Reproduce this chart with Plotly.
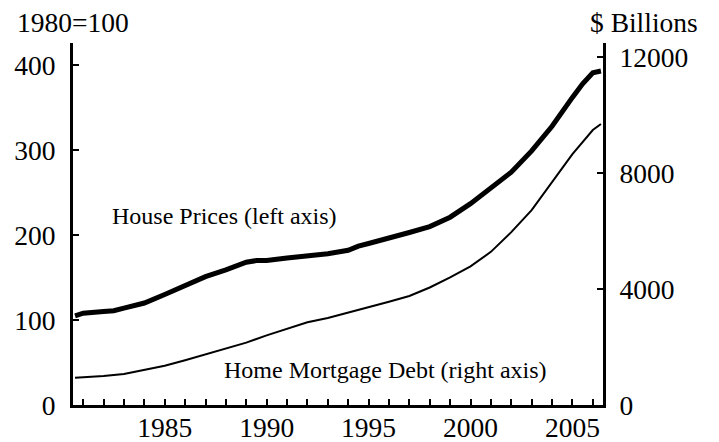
import plotly.graph_objects as go

# House price index, 1980=100 (left axis)
hp_year = [1980.6, 1981.0, 1982.0, 1982.5, 1983.0, 1984.0, 1985.0, 1986.0, 1987.0,
           1988.0, 1988.7, 1989.0, 1989.5, 1990.0, 1991.0, 1992.0, 1993.0, 1994.0,
           1994.5, 1995.0, 1996.0, 1997.0, 1998.0, 1999.0, 2000.0, 2001.0, 2002.0,
           2003.0, 2004.0, 2005.0, 2005.5, 2006.0, 2006.4]
hp_value = [105, 108, 110, 111, 114, 120, 130, 141, 151,
            159, 166, 168, 170, 170, 173, 175, 178, 182,
            187, 190, 196, 203, 210, 221, 237, 255, 274,
            299, 328, 362, 378, 391, 393]

# Home mortgage debt, $ billions (right axis)
debt_year = [1980.6, 1982.0, 1983.0, 1984.0, 1985.0, 1986.0, 1987.0, 1988.0,
             1989.0, 1990.0, 1991.0, 1992.0, 1993.0, 1994.0, 1995.0, 1996.0,
             1997.0, 1998.0, 1999.0, 2000.0, 2001.0, 2002.0, 2003.0, 2004.0,
             2005.0, 2006.0, 2006.4]
debt_value = [940, 1000, 1070, 1200, 1350, 1540, 1750, 1950,
              2150, 2400, 2630, 2850, 3000, 3180, 3380, 3560,
              3760, 4050, 4400, 4780, 5280, 5960, 6720, 7680,
              8650, 9480, 9690]

year_ticks = list(range(1981, 2007))
year_labels = [str(y) if y % 5 == 0 else "" for y in year_ticks]
left_ticks = [0, 100, 200, 300, 400]
right_ticks = [0, 4000, 8000, 12000]

FONT = "Liberation Serif"

fig = go.Figure()
fig.add_trace(go.Scatter(x=hp_year, y=hp_value, mode="lines",
                         line=dict(color="black", width=5), yaxis="y"))
fig.add_trace(go.Scatter(x=debt_year, y=debt_value, mode="lines",
                         line=dict(color="black", width=2), yaxis="y2"))

axis_common = dict(showgrid=False, zeroline=False, showline=True, linecolor="black",
                   linewidth=3, ticks="inside", ticklen=6, tickwidth=1.5, automargin=False,
                   tickcolor="black", tickfont=dict(size=27.5, color="black", family=FONT))

fig.update_layout(
    width=719, height=442,
    margin=dict(l=65, r=124, t=35, b=45),
    plot_bgcolor="white", paper_bgcolor="white",
    showlegend=False,
    font=dict(family=FONT, color="black", size=26),
    xaxis=dict(range=[1980.5, 2006.5], tickvals=year_ticks, ticktext=year_labels,
               ticklabelstandoff=-4, **axis_common),
    yaxis=dict(range=[0, 426], tickvals=left_ticks, ticklabelstandoff=9, **axis_common),
    yaxis2=dict(range=[0, 12480], tickvals=right_ticks, ticktext=[str(v) for v in right_ticks],
                overlaying="y", side="right", ticklabelstandoff=8, **axis_common),
    annotations=[
        dict(text="1980=100", xref="paper", yref="paper", x=-0.109, y=1.058,
             xanchor="left", yanchor="middle", showarrow=False, font=dict(size=27.5)),
        dict(text="$ Billions", xref="paper", yref="paper", x=1.183, y=1.058,
             xanchor="right", yanchor="middle", showarrow=False, font=dict(size=27.5)),
        dict(text="House Prices (left axis)", x=1982.3, y=222, xref="x", yref="y",
             xanchor="left", yanchor="middle", showarrow=False, font=dict(size=24)),
        dict(text="Home Mortgage Debt (right axis)", x=1987.8, y=41, xref="x", yref="y",
             xanchor="left", yanchor="middle", showarrow=False, font=dict(size=24)),
    ],
)

fig.write_html("out.html")
